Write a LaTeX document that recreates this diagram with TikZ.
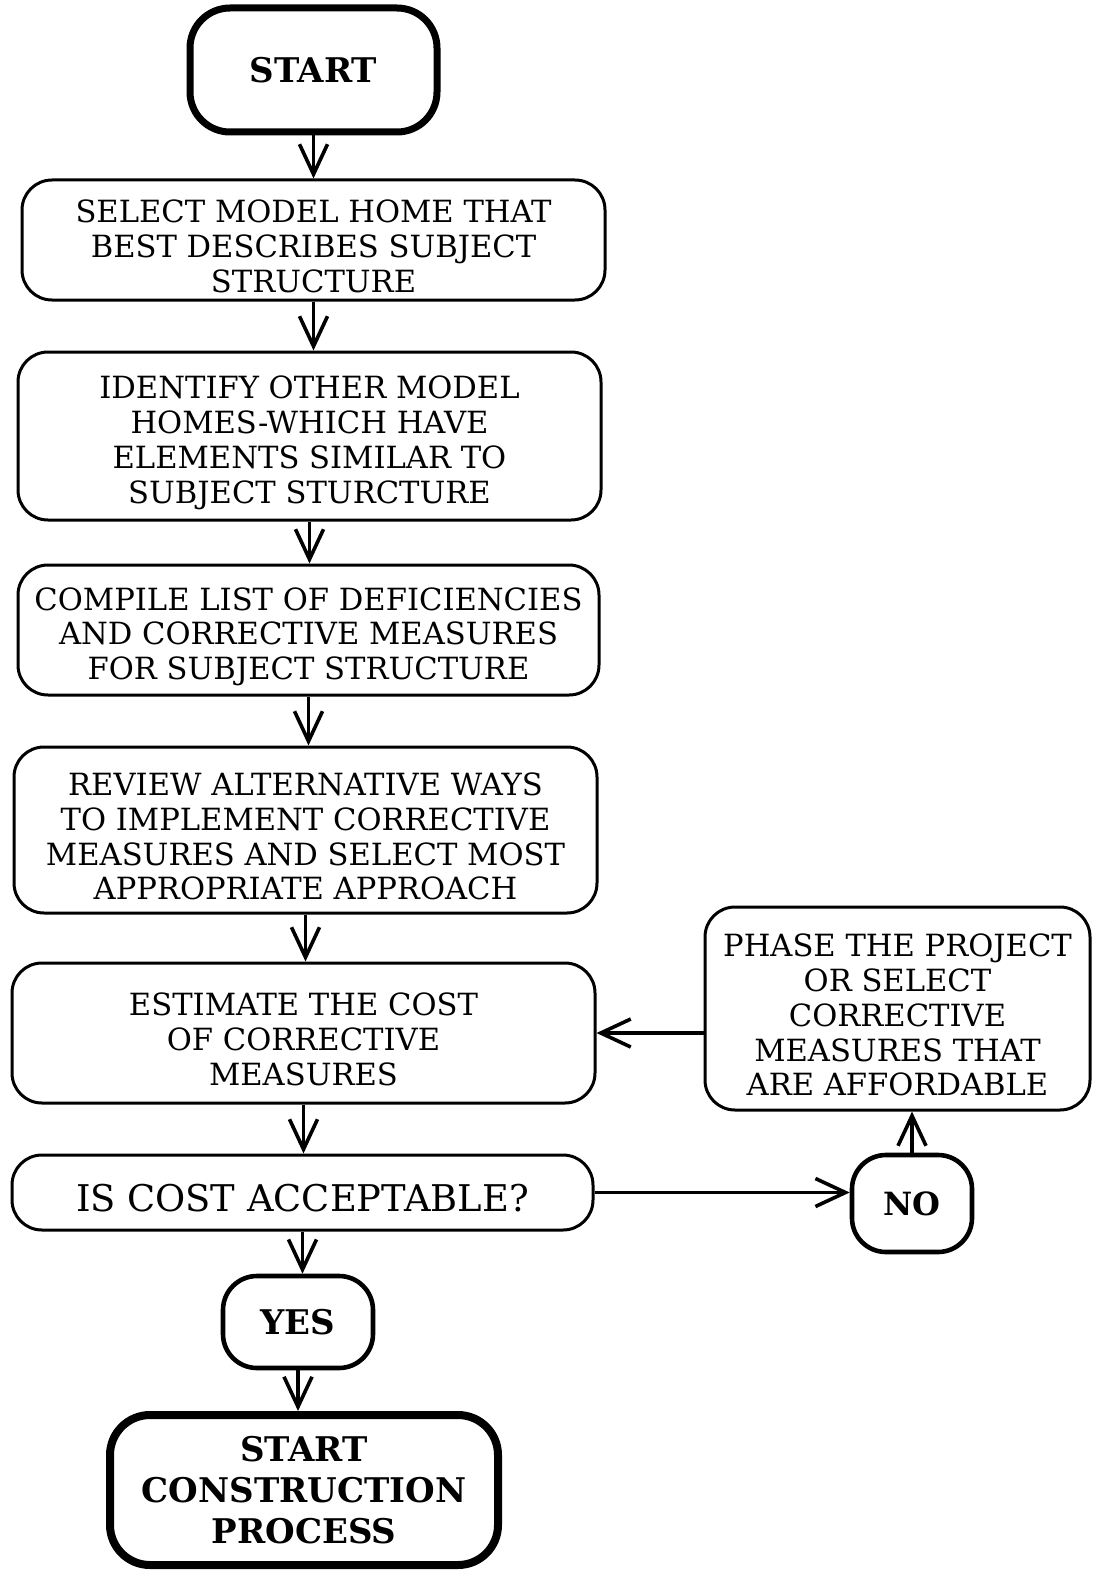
\documentclass[tikz,border=0pt]{standalone}
\usepackage{fontspec}
\setmainfont{DejaVu Serif}
\usetikzlibrary{arrows.meta}
\newcommand\tpad{\rule{0pt}{18pt}}
\tikzset{
  box/.style={draw, rounded corners=15pt, line width=1.5pt, align=center,
    font=\fontsize{15.3}{17.4}\selectfont, inner sep=0pt},
  thickbox/.style={draw, rounded corners=20pt, align=center,
    font=\fontsize{17}{20.5}\selectfont\bfseries, inner sep=0pt},
  arr/.style={line width=1.6pt, -{Straight Barb[length=15pt,width=14pt,line width=1.8pt]}}
}
\begin{document}
\begin{tikzpicture}[x=0.5pt,y=-0.5pt]
\useasboundingbox (0,0) rectangle (1094,1573);
\node[thickbox, line width=3.5pt, minimum width=123.5pt, minimum height=62pt] (start) at (313.5,70) {START};
\node[box, minimum width=291.5pt, minimum height=60pt] (b1) at (313.5,240)
  {\tpad SELECT MODEL HOME THAT\\BEST DESCRIBES SUBJECT\\STRUCTURE};
\node[box, minimum width=291.5pt, minimum height=84pt] (b2) at (309.5,436)
  {\tpad IDENTIFY OTHER MODEL\\HOMES-WHICH HAVE\\ELEMENTS SIMILAR TO\\SUBJECT STURCTURE};
\node[box, minimum width=290.5pt, minimum height=65pt] (b3) at (308.5,630)
  {\tpad COMPILE LIST OF DEFICIENCIES\\AND CORRECTIVE MEASURES\\FOR SUBJECT STRUCTURE};
\node[box, minimum width=291.5pt, minimum height=83pt] (b4) at (305.5,830)
  {\tpad REVIEW ALTERNATIVE WAYS\\TO IMPLEMENT CORRECTIVE\\MEASURES AND SELECT MOST\\APPROPRIATE APPROACH};
\node[box, minimum width=291.5pt, minimum height=70pt] (b5) at (303.5,1033)
  {\tpad ESTIMATE THE COST\\OF CORRECTIVE\\MEASURES};
\node[box, minimum width=290.5pt, minimum height=37.5pt, font=\fontsize{18.4}{20}\selectfont] (b6) at (302.5,1192.5)
  {\rule{0pt}{19pt}IS COST ACCEPTABLE?};
\node[thickbox, line width=2.3pt, rounded corners=17pt, minimum width=75pt, minimum height=46pt] (yes) at (298,1322) {YES};
\node[thickbox, line width=4pt, minimum width=194pt, minimum height=75pt] (end) at (304,1490)
  {START\\CONSTRUCTION\\PROCESS};
\node[box, minimum width=192.5pt, minimum height=101.5pt] (phase) at (897.5,1008.5)
  {\tpad PHASE THE PROJECT\\OR SELECT\\CORRECTIVE\\MEASURES THAT\\ARE AFFORDABLE};
\node[thickbox, line width=2.3pt, rounded corners=17pt, minimum width=60pt, minimum height=48.5pt, font=\fontsize{16}{18}\selectfont\bfseries] (no) at (912,1203.5) {NO};

\draw[arr] (start.south) -- (start.south |- b1.north);
\draw[arr] (b1.south) -- (b1.south |- b2.north);
\draw[arr] (b2.south) -- (b2.south |- b3.north);
\draw[arr] (b3.south) -- (b3.south |- b4.north);
\draw[arr] (b4.south) -- (b4.south |- b5.north);
\draw[arr] (b5.south) -- (b5.south |- b6.north);
\draw[arr] (b6.south) -- (b6.south |- yes.north);
\draw[arr] (yes.south) -- (yes.south |- end.north);
\draw[arr] (b6.east) -- (b6.east -| no.west);
\draw[arr] (no.north) -- (no.north |- phase.south);
\draw[arr] (phase.west |- b5.east) -- (b5.east);
\end{tikzpicture}
\end{document}
